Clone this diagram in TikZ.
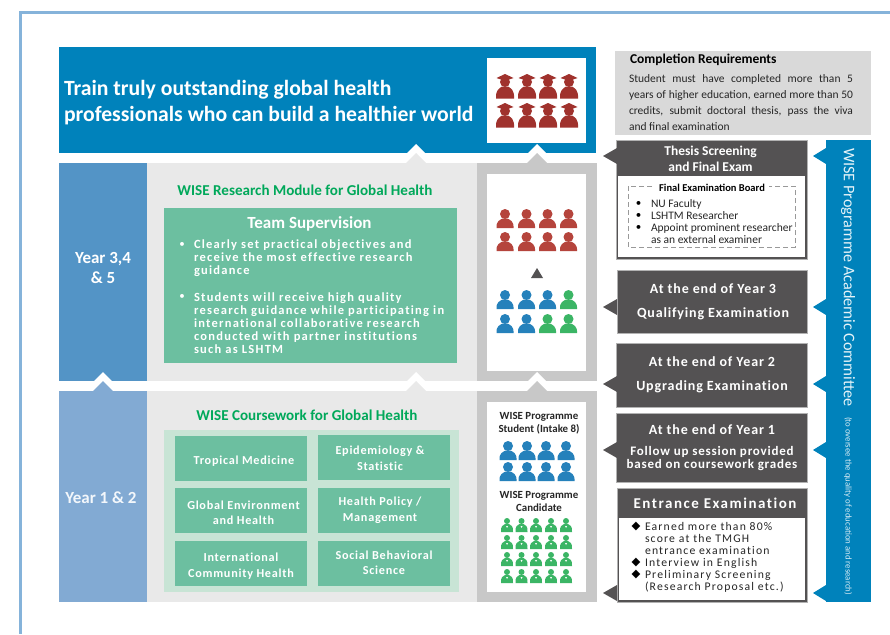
\documentclass[tikz,border=0pt]{standalone}
\usepackage{fontspec}
\setmainfont{Carlito}
\newfontfamily\widefont[LetterSpace=6, Ligatures=NoCommon]{Carlito}
\newfontfamily\widerfont[LetterSpace=10, Ligatures=NoCommon]{Carlito}
\newfontfamily\symfont{DejaVu Sans}
\usetikzlibrary{positioning}

\definecolor{framec}{HTML}{85B3DA}
\definecolor{topblue}{HTML}{0082BB}
\definecolor{yearup}{HTML}{5394C6}
\definecolor{yearlow}{HTML}{82AAD3}
\definecolor{panelc}{HTML}{E9E9E9}
\definecolor{colc}{HTML}{C8C8C8}
\definecolor{reqc}{HTML}{D9D9D9}
\definecolor{tealc}{HTML}{6CBFA0}
\definecolor{tealp}{HTML}{C8E4D5}
\definecolor{headc}{HTML}{00A85A}
\definecolor{darkc}{HTML}{545253}
\definecolor{hatc}{HTML}{A0322D}
\definecolor{redp}{HTML}{B5443C}
\definecolor{bluep}{HTML}{2581BB}
\definecolor{greenp}{HTML}{3BB565}
\definecolor{textc}{HTML}{262626}

\newcommand{\fs}[2]{\fontsize{#1}{#2}\selectfont}
\newcommand{\jline}[1]{\makebox[224pt][s]{#1}}
% white notch with a coloured triangle under it
\newcommand{\upmark}[3]{
\fill[white] (#1-10,#2-9) -- (#1,#2-19) -- (#1+10,#2-9) -- cycle;
\fill[#3] (#1-10,#2) -- (#1,#2-10) -- (#1+10,#2) -- cycle;
}

\tikzset{
  txt/.style={inner sep=0, outer sep=0, align=center},
  ltxt/.style={inner sep=0, outer sep=0, align=left, anchor=west},
  item/.style={txt, text=white, font=\widefont\bfseries\fs{12.2}{15.5}},
  darkhead/.style={txt, text=white, font=\widefont\bfseries\fs{14}{24}},
  boxc/.style={draw=black!30, line width=.5pt, fill=darkc},
  person/.pic={
    \fill[pic actions] (0,-8) circle (5);
    \fill[pic actions] (-8.5,6) .. controls (-9,-1) and (-5,-2) .. (-2.5,-3.5)
      -- (2.5,-3.5) .. controls (5,-2) and (9,-1) .. (8.5,6) -- cycle;
  },
  gradhat/.pic={
    \fill[pic actions] (0,-5) circle (5);
    \fill[pic actions] (-8.5,-9) -- (0,-13) -- (8.5,-9) -- (0,-6) -- cycle;
    \fill[pic actions] (-9,11.5) .. controls (-9.5,3) and (-6,1.5) .. (-3,-.5)
      -- (3,-.5) .. controls (6,1.5) and (9.5,3) .. (9,11.5) -- cycle;
  },
  smallp/.pic={
    \fill[pic actions] (0,-4) circle (3);
    \fill[pic actions] (-6,7) .. controls (-6.5,1) and (-4,0) .. (-2,-1)
      -- (2,-1) .. controls (4,0) and (6.5,1) .. (6,7) -- cycle;
    \fill[white] (-1,1) -- (0,3) -- (1,1) -- cycle;
  }
}

\begin{document}
\begin{tikzpicture}[x=1pt, y=-1pt]
\useasboundingbox (0,0) rectangle (890,634);

\draw[framec, line width=2.2pt] (890,12.5) -- (20.5,12.5) -- (20.5,634);

% top band
\fill[topblue] (58.5,47) rectangle (596,153);
\fill[white] (487,58) rectangle (586,143);

% year panels
\fill[yearup] (58.5,163) rectangle (146.5,381);
\fill[panelc] (146.5,163) rectangle (477,381);
\fill[colc] (477,163) rectangle (597,381);
\fill[white] (487,174) rectangle (586,371);
\fill[yearlow] (58.5,391) rectangle (146.5,602);
\fill[panelc] (146.5,391) rectangle (477,602);
\fill[colc] (477,391) rectangle (597,602);
\fill[white] (487,402) rectangle (586,592);

\upmark{416}{163}{panelc}
\upmark{537}{163}{colc}
\upmark{103}{391}{yearlow}
\upmark{416}{391}{panelc}
\upmark{537}{391}{colc}

% team supervision and courses
\fill[tealc] (164,208) rectangle (457,363);
\fill[tealp] (164,430) rectangle (459,592);
\fill[tealc] (175,436) rectangle (307,481);
\fill[tealc] (318,435) rectangle (450,480);
\fill[tealc] (175,488) rectangle (307,533);
\fill[tealc] (318,488) rectangle (450,533);
\fill[tealc] (175,541) rectangle (307,586);
\fill[tealc] (318,541) rectangle (450,586);

% right column
\fill[reqc] (615,51) rectangle (871,135);
\filldraw[boxc] (616,140) rectangle (807,259);
\fill[white] (618,176) rectangle (805,257);
\draw[gray!80, dash pattern=on 5pt off 3pt, line width=.7pt] (628,186) rectangle (795,247);
\filldraw[boxc] (617,270) rectangle (807,333);
\filldraw[boxc] (616,343) rectangle (807,407);
\filldraw[boxc] (616,413) rectangle (807,482);
\filldraw[boxc] (617,488) rectangle (807,602);
\fill[white] (619,518) rectangle (805,600);
\fill[topblue] (826,140) rectangle (871,602);

\foreach \y in {156,307,384,450,593} {
  \fill[darkc] (617,\y-8) -- (603,\y) -- (617,\y+8) -- cycle;
  \fill[topblue] (826,\y-8) -- (813,\y) -- (826,\y+8) -- cycle;
}
\fill[darkc] (531,278) -- (537,268) -- (543,278) -- cycle;

% people
\foreach \x in {505,527,548,569}
  \foreach \y in {87,116}
    \pic[fill=hatc] at (\x,\y) {gradhat};
\foreach \x in {505,526.5,547.5,568.5}
  \foreach \y in {222,245}
    \pic[fill=redp] at (\x,\y) {person};
\foreach \x/\c in {505/bluep,526.5/bluep,547.5/bluep,568.5/greenp}
  \pic[fill=\c] at (\x,303) {person};
\foreach \x/\c in {505/bluep,526.5/bluep,547.5/greenp,568.5/greenp}
  \pic[fill=\c] at (\x,327) {person};
\foreach \x in {508,527,546,566}
  \foreach \y in {454,475}
    \pic[fill=bluep] at (\x,\y) {person};
\foreach \x in {507,521.5,536,551,566}
  \foreach \y in {525,542,559,576}
    \pic[fill=greenp] at (\x,\y) {smallp};

% texts
\node (goal) [ltxt, text=white, font=\bfseries\fs{21.7}{26}] at (64,103)
  {Train truly outstanding global health\\professionals who can build a healthier world};

\node (yearhigh) [txt, text=white, font=\bfseries\fs{17}{20.5}] at (103,268) {Year 3,4\\\& 5};
\node (yearbase) [txt, text=white!90!yearlow, font=\bfseries\fs{17}{20}] at (101,498) {Year 1 \& 2};

\node (research) [txt, text=headc, font=\bfseries\fs{15.1}{16}] at (305,190) {WISE Research Module for Global Health};
\node (coursework) [txt, text=headc, font=\bfseries\fs{15.1}{16}] at (307,415) {WISE Coursework for Global Health};

\node (team) [txt, text=white, font=\bfseries\fs{17}{18}] at (309.5,224) {Team Supervision};
\node (dotA) [txt, text=white, font=\fs{11}{13}] at (182,245) {•};
\node (objectives) [ltxt, text=white, font=\widerfont\bfseries\fs{12.5}{13}] at (194,258.5)
  {Clearly set practical objectives and\\receive the most effective research\\guidance};
\node (dotB) [txt, text=white, font=\fs{11}{13}] at (182,297) {•};
\node (guidance) [ltxt, text=white, font=\widerfont\bfseries\fs{12.5}{13}] at (194,323)
  {Students will receive high quality\\research guidance while participating in\\international collaborative research\\conducted with partner institutions\\such as LSHTM};

\node (tropical) [item] at (244,461) {Tropical Medicine};
\node (environment) [item] at (243.5,513) {Global Environment\\and Health};
\node (community) [item] at (241,566) {International\\Community Health};
\node (epidemiology) [item] at (380,458.5) {Epidemiology \&\\Statistic};
\node (policy) [item] at (380,510) {Health Policy /\\Management};
\node (social) [item] at (384,563) {Social Behavioral\\Science};

\node (student) [txt, text=textc, font=\bfseries\fs{10.9}{13}] at (539,423) {WISE Programme\\Student (Intake 8)};
\node (candidate) [txt, text=textc, font=\bfseries\fs{10.9}{13}] at (539,501.5) {WISE Programme\\Candidate};

\node (reqhead) [ltxt, text=black, font=\bfseries\fs{13.5}{14}] at (630,60) {Completion Requirements};
\node (reqbody) [ltxt, text=textc, font=\fs{11.5}{16}] at (629,103)
  {\jline{Student must have completed more than 5}\\
   \jline{years of higher education, earned more than 50}\\
   \jline{credits, submit doctoral thesis, pass the viva}\\
   and final examination};

\node (thesis) [txt, text=white, font=\bfseries\fs{13.5}{15.5}] at (710.5,159) {Thesis Screening\\and Final Exam};
\node (board) [txt, fill=white, inner xsep=4pt, text=black, font=\bfseries\fs{10.5}{12}] at (712,188) {Final Examination Board};
\foreach \y/\n in {204/a,216/b,228/c}
  \node (dot\n) [txt, font=\fs{11}{12}] at (638.5,\y) {•};
\node (members) [ltxt, text=textc, font=\fs{11.5}{12}] at (651,222)
  {NU Faculty\\LSHTM Researcher\\Appoint prominent researcher\\as an external examiner};

\node (endthree) [darkhead] at (713,302) {At the end of Year 3\\Qualifying Examination};
\node (endtwo) [darkhead] at (712,375) {At the end of Year 2\\Upgrading Examination};
\node (endone) [darkhead] at (712,430) {At the end of Year 1};
\node (followup) [txt, text=white, font=\widefont\bfseries\fs{13}{13}] at (712,459) {Follow up session provided\\based on coursework grades};

\node (entrance) [txt, text=white, font=\widerfont\bfseries\fs{15}{17}] at (715,503) {Entrance Examination};
\foreach \y/\n in {527/p,563/q,575/r}
  \node (mark\n) [txt, text=black, font=\symfont\fs{11.5}{12}] at (636,\y) {◆};
\node (criteria) [ltxt, text=textc, font=\widerfont\fs{11.7}{12}] at (645,557)
  {Earned more than 80\%\\score at the TMGH\\entrance examination\\Interview in English\\Preliminary Screening\\(Research Proposal etc.)};

\node (committee) [ltxt, rotate=-90, text=white!90!topblue, font=\fs{16.2}{18}] at (848,148) {WISE Programme Academic Committee};
\node (oversee) [ltxt, rotate=-90, text=white!85!topblue, font=\fs{8.8}{11}] at (848,417) {(to oversee the quality of education and research)};

\end{tikzpicture}
\end{document}
